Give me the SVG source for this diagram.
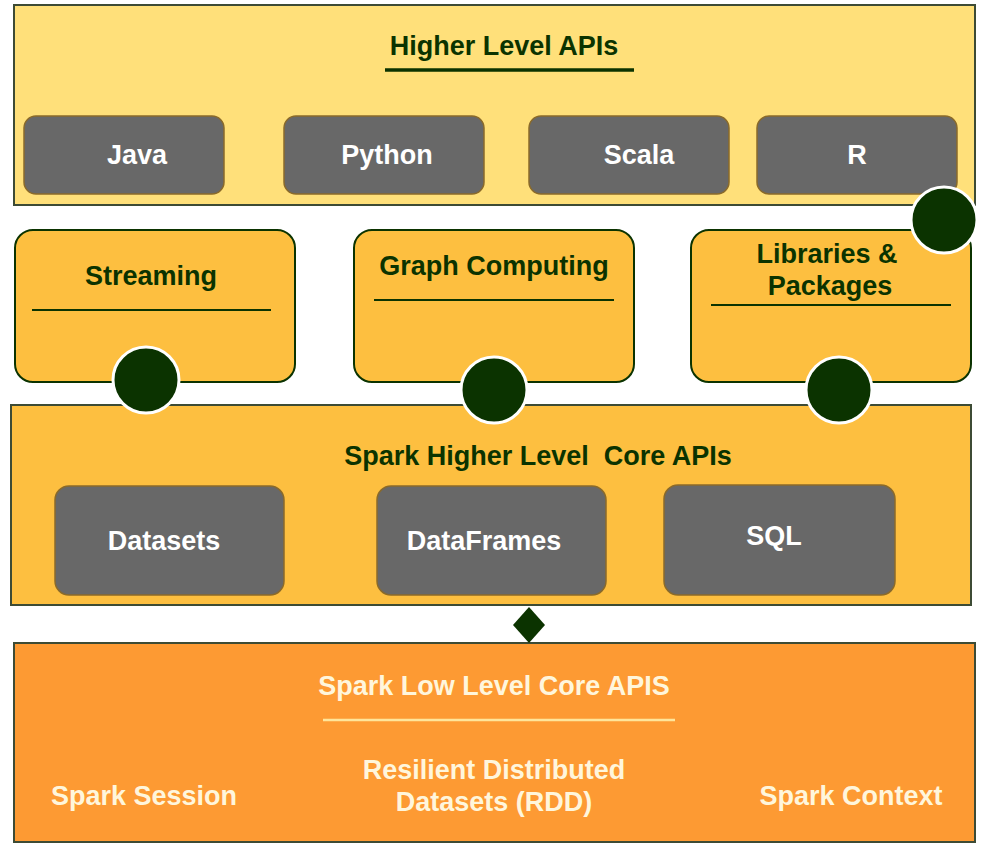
<svg xmlns="http://www.w3.org/2000/svg" width="996" height="848" viewBox="0 0 996 848">
<style>
text{font-family:"Liberation Sans",Arial,sans-serif;font-weight:bold;font-size:27px;text-anchor:middle;white-space:pre}
.dk{fill:#0b3300}
.wt{fill:#ffffff}
.lt{fill:#fff6dc}
.panel{stroke:#3d4b35;stroke-width:2}
.gray{fill:#686868;stroke:#8a6a2a;stroke-width:1.5}
.card{fill:#fdbf40;stroke:#0b3300;stroke-width:2}
.rule{stroke:#0b3300;stroke-width:2}
.dot{fill:#0b3300;stroke:#ffffff;stroke-width:3}
</style>
<rect width="996" height="848" fill="#ffffff"/>
<g id="higher-level-apis">
<rect class="panel" x="14" y="5" width="961" height="200" fill="#ffe07a"/>
<text class="dk" x="504" y="55">Higher Level APIs</text>
<line x1="385" y1="70" x2="634" y2="70" stroke="#0b3300" stroke-width="3.5"/>
</g>
<g id="java"><rect class="gray" x="24" y="116" width="200" height="78" rx="12"/><text class="wt" x="137" y="164">Java</text></g>
<g id="python"><rect class="gray" x="284" y="116" width="200" height="78" rx="12"/><text class="wt" x="387" y="164">Python</text></g>
<g id="scala"><rect class="gray" x="529" y="116" width="200" height="78" rx="12"/><text class="wt" x="639" y="164">Scala</text></g>
<g id="r"><rect class="gray" x="757" y="116" width="200" height="78" rx="12"/><text class="wt" x="857" y="164">R</text></g>
<g id="streaming"><rect class="card" x="15" y="230" width="280" height="152" rx="18"/><text class="dk" x="151" y="285">Streaming</text><line class="rule" x1="32" y1="310" x2="271" y2="310"/></g>
<g id="graph-computing"><rect class="card" x="354" y="230" width="280" height="152" rx="18"/><text class="dk" x="494" y="275">Graph Computing</text><line class="rule" x1="374" y1="300" x2="614" y2="300"/></g>
<g id="libraries-packages"><rect class="card" x="691" y="230" width="280" height="152" rx="18"/><text class="dk" x="827" y="263">Libraries &amp;</text><text class="dk" x="830" y="295">Packages</text><line class="rule" x1="711" y1="305" x2="951" y2="305"/></g>
<g id="spark-higher-level-core-apis">
<rect class="panel" x="11" y="405" width="960" height="200" fill="#fdbf40"/>
<text class="dk" x="538" y="465">Spark Higher Level  Core APIs</text>
</g>
<g id="datasets"><rect class="gray" x="55" y="486" width="229" height="109" rx="14"/><text class="wt" x="164" y="550">Datasets</text></g>
<g id="dataframes"><rect class="gray" x="377" y="486" width="229" height="109" rx="14"/><text class="wt" x="484" y="550">DataFrames</text></g>
<g id="sql"><rect class="gray" x="664" y="485" width="231" height="110" rx="14"/><text class="wt" x="774" y="545">SQL</text></g>
<g id="spark-low-level-core-apis">
<rect class="panel" x="14" y="643" width="961" height="199" fill="#fd9a33"/>
<text class="lt" x="494" y="695">Spark Low Level Core APIS</text>
<line x1="323" y1="720" x2="675" y2="720" stroke="#ffe59a" stroke-width="2.5"/>
<text class="lt" x="144" y="805">Spark Session</text>
<text class="lt" x="494" y="779">Resilient Distributed</text>
<text class="lt" x="494" y="811">Datasets (RDD)</text>
<text class="lt" x="851" y="805">Spark Context</text>
</g>
<g id="connectors">
<circle class="dot" cx="146" cy="380" r="33"/>
<circle class="dot" cx="494" cy="390" r="33"/>
<circle class="dot" cx="839" cy="390" r="33"/>
<circle class="dot" cx="944" cy="220" r="33"/>
<polygon points="529,607 545,625 529,643 513,625" fill="#0b3300"/>
</g>
</svg>
